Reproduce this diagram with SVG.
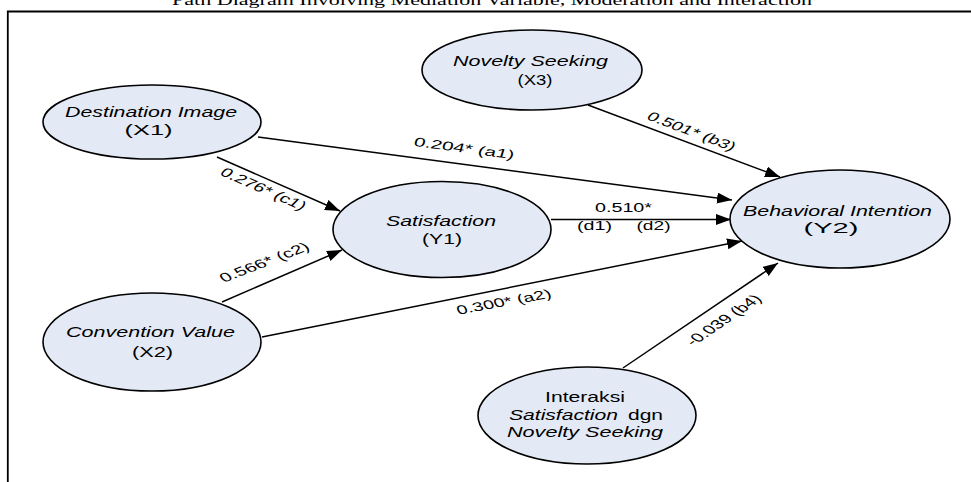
<svg xmlns="http://www.w3.org/2000/svg" width="971" height="482" viewBox="0 0 971 482">
<defs>
<style>
.node ellipse{fill:#e4eaf5;stroke:#000;stroke-width:1.6}
.t{font-family:"Liberation Sans",Arial,sans-serif;font-size:14px;fill:#000;text-anchor:middle}
.i{font-style:italic}
.lbl{font-family:"Liberation Sans",Arial,sans-serif;font-size:12.5px;fill:#000;text-anchor:middle}
.edge{stroke:#000;stroke-width:1.5;fill:none;marker-end:url(#ah)}
.title{font-family:"Liberation Serif","Times New Roman",serif;font-size:15px;fill:#000;text-anchor:middle}
</style>
<marker id="ah" markerUnits="userSpaceOnUse" markerWidth="16" markerHeight="12" refX="15" refY="5.5" orient="auto">
<path d="M0,0 L15,5.5 L0,11 z" fill="#000"/>
</marker>
</defs>
<rect width="971" height="482" fill="#fff"/>
<text class="title" x="492" y="5" textLength="640" lengthAdjust="spacingAndGlyphs">Path Diagram Involving Mediation Variable, Moderation and Interaction</text>
<path d="M7.8,482 V11.5 H971" fill="none" stroke="#000" stroke-width="1.8"/>

<g id="connectors">
<line class="edge" x1="258" y1="137" x2="732" y2="200"/>
<line class="edge" x1="217" y1="157" x2="340" y2="211"/>
<line class="edge" x1="222" y1="302" x2="342" y2="250"/>
<line class="edge" x1="262" y1="337" x2="742" y2="241"/>
<line class="edge" x1="551" y1="219.5" x2="731" y2="219.5"/>
<line class="edge" x1="588" y1="105" x2="780" y2="177"/>
<line class="edge" x1="623" y1="368" x2="778" y2="263"/>
<text class="lbl" transform="translate(463,152.5) scale(1.5,1) rotate(11.3)" textLength="68" lengthAdjust="spacingAndGlyphs">0.204* (a1)</text>
<text class="lbl" transform="translate(260,192.5) scale(1.5,1) rotate(33.4)" textLength="66" lengthAdjust="spacingAndGlyphs">0.276* (c1)</text>
<text class="lbl" transform="translate(267.5,266) scale(1.5,1) rotate(-29.9)" textLength="67" lengthAdjust="spacingAndGlyphs">0.566* (c2)</text>
<text class="lbl" transform="translate(505.5,306) scale(1.5,1) rotate(-15.5)" textLength="65" lengthAdjust="spacingAndGlyphs">0.300* (a2)</text>
<text class="lbl" transform="translate(688.5,135) scale(1.5,1) rotate(29.4)" textLength="66" lengthAdjust="spacingAndGlyphs">0.501* (b3)</text>
<text class="lbl" transform="translate(728,323) scale(1.5,1) rotate(-45.4)" textLength="66" lengthAdjust="spacingAndGlyphs">-0.039 (b4)</text>
<text class="lbl" x="623.5" y="212" textLength="57" lengthAdjust="spacingAndGlyphs">0.510*</text>
<text class="lbl" x="594.5" y="230" textLength="35" lengthAdjust="spacingAndGlyphs">(d1)</text>
<text class="lbl" x="653.5" y="230" textLength="34" lengthAdjust="spacingAndGlyphs">(d2)</text>
</g>

<g id="node-x1" class="node">
<ellipse cx="152" cy="122" rx="109" ry="37"/>
<text class="t i" x="151" y="117" textLength="172" lengthAdjust="spacingAndGlyphs">Destination Image</text>
<text class="t" x="148.5" y="135" textLength="48" lengthAdjust="spacingAndGlyphs">(X1)</text>
</g>

<g id="node-x3" class="node">
<ellipse cx="532" cy="70" rx="110" ry="40"/>
<text class="t i" x="530.5" y="66" textLength="155" lengthAdjust="spacingAndGlyphs">Novelty Seeking</text>
<text class="t" x="535" y="85" textLength="35" lengthAdjust="spacingAndGlyphs">(X3)</text>
</g>

<g id="node-y1" class="node">
<ellipse cx="442" cy="229.5" rx="109" ry="48"/>
<text class="t i" x="441" y="226" textLength="110" lengthAdjust="spacingAndGlyphs">Satisfaction</text>
<text class="t" x="442" y="244" textLength="40" lengthAdjust="spacingAndGlyphs">(Y1)</text>
</g>

<g id="node-y2" class="node">
<ellipse cx="840" cy="219" rx="110" ry="49"/>
<text class="t i" x="837.5" y="216" textLength="189" lengthAdjust="spacingAndGlyphs">Behavioral Intention</text>
<text class="t" x="831" y="233" textLength="55" lengthAdjust="spacingAndGlyphs">(Y2)</text>
</g>

<g id="node-x2" class="node">
<ellipse cx="152" cy="342" rx="109" ry="49"/>
<text class="t i" x="150.5" y="337" textLength="169" lengthAdjust="spacingAndGlyphs">Convention Value</text>
<text class="t" x="152.5" y="357" textLength="41" lengthAdjust="spacingAndGlyphs">(X2)</text>
</g>

<g id="node-interaksi" class="node">
<ellipse cx="587" cy="415.5" rx="109" ry="48.5"/>
<text class="t" x="585" y="402" textLength="80" lengthAdjust="spacingAndGlyphs">Interaksi</text>
<text class="t i" x="563.5" y="420" textLength="109" lengthAdjust="spacingAndGlyphs">Satisfaction</text>
<text class="t" x="645.5" y="420" textLength="35" lengthAdjust="spacingAndGlyphs">dgn</text>
<text class="t i" x="585" y="437" textLength="156" lengthAdjust="spacingAndGlyphs">Novelty Seeking</text>
</g>
</svg>
